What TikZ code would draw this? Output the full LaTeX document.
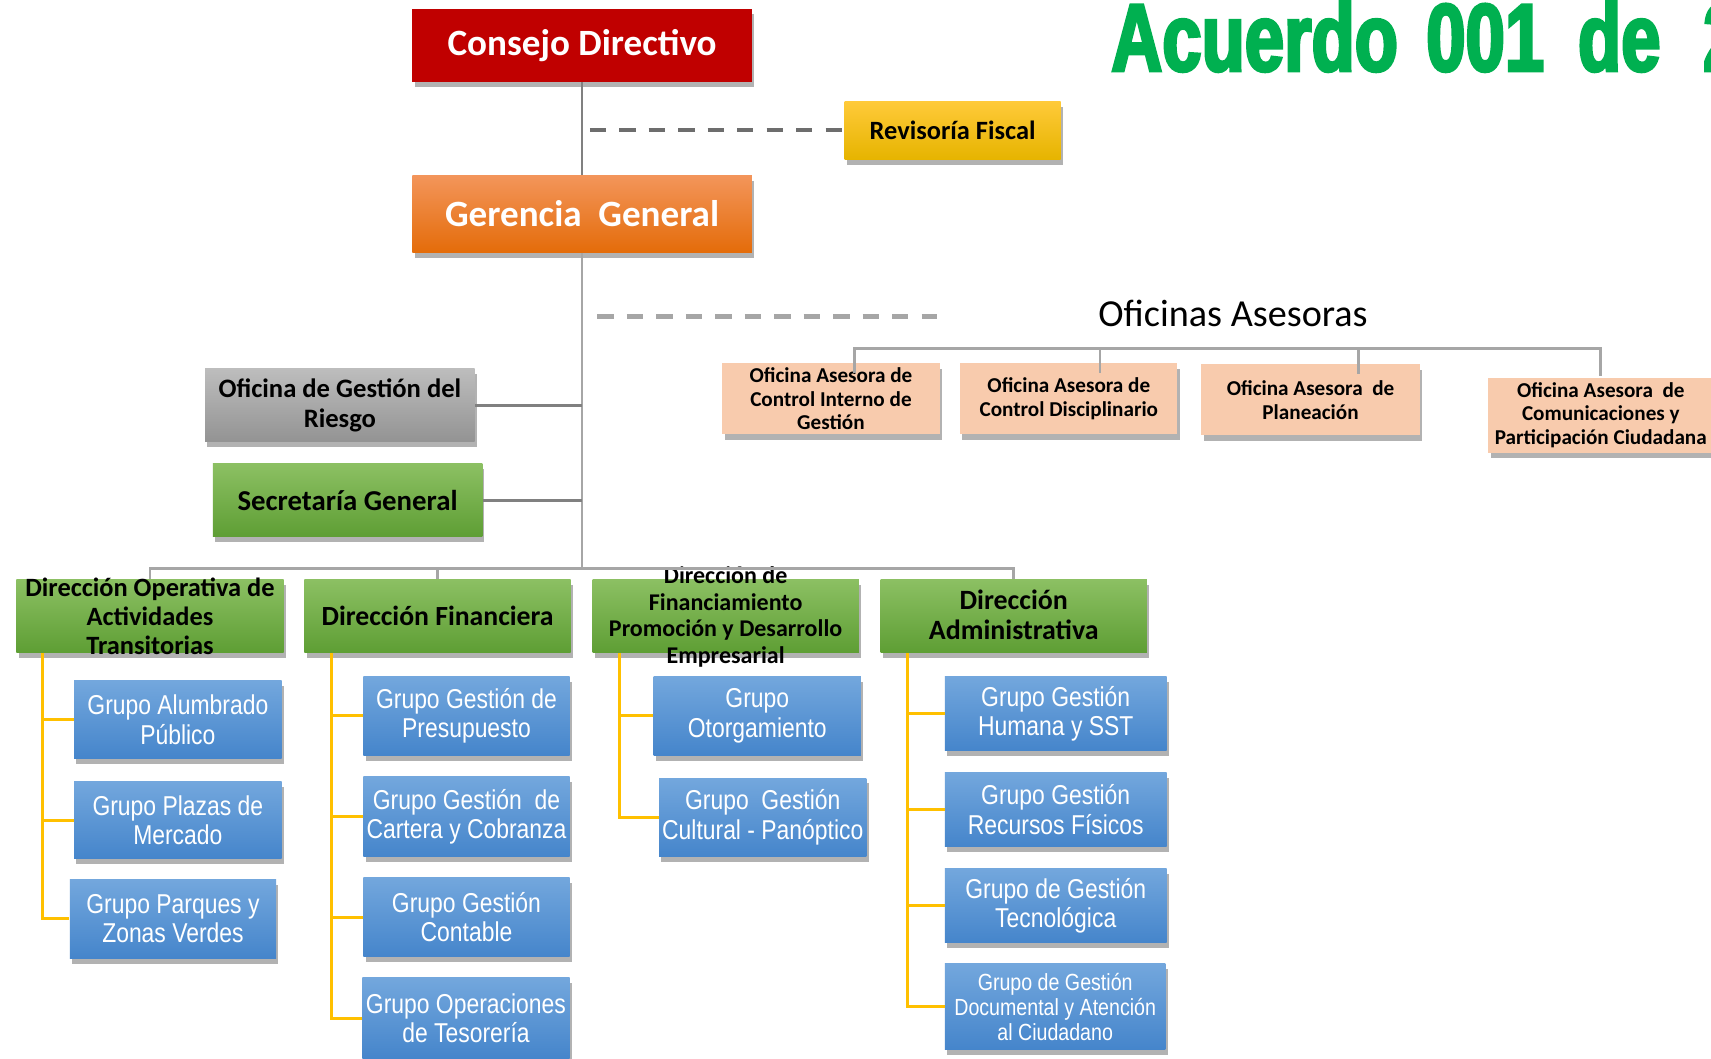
\documentclass[tikz,border=0pt]{standalone}
\usepackage{fontspec}
\setmainfont{Carlito}
\newfontfamily\narrowf{Liberation Sans}[FakeStretch=0.84]
\newfontfamily\titlef{Liberation Sans}[FakeStretch=0.736, FakeBold=3]
\usetikzlibrary{shadows,calc}
\definecolor{cRed}{HTML}{C00000}
\definecolor{cOrT}{HTML}{F3955A}
\definecolor{cOrB}{HTML}{E46C0A}
\definecolor{cYeT}{HTML}{FFCA3A}
\definecolor{cYeB}{HTML}{E6B400}
\definecolor{cGrT}{HTML}{BDBDBD}
\definecolor{cGrB}{HTML}{939393}
\definecolor{cGnT}{HTML}{8CC063}
\definecolor{cGnB}{HTML}{5E9E34}
\definecolor{cPeach}{HTML}{F8CBAD}
\definecolor{cBlT}{HTML}{73A7DD}
\definecolor{cBlB}{HTML}{4585CB}
\definecolor{cLine}{HTML}{808080}
\definecolor{cLineL}{HTML}{A6A6A6}
\definecolor{cDash}{HTML}{6D6D6D}
\definecolor{cYLine}{HTML}{FFC000}
\definecolor{cTitle}{HTML}{00B050}
\tikzset{
  box/.style={inner sep=0pt, align=center,
    drop shadow={shadow xshift=1pt, shadow yshift=-2.5pt, opacity=0.3, fill=black}},
  redbox/.style={box, fill=cRed, text=white, font=\bfseries\fontsize{17}{20}\selectfont},
  orgbox/.style={box, top color=cOrT, bottom color=cOrB, text=white, font=\bfseries\fontsize{17}{20}\selectfont},
  yelbox/.style={box, top color=cYeT, bottom color=cYeB, text=black, font=\bfseries\fontsize{12.1}{14}\selectfont},
  graybox/.style={box, top color=cGrT, bottom color=cGrB, text=black, font=\bfseries\fontsize{12.2}{13.5}\selectfont},
  greenbox/.style={box, top color=cGnT, bottom color=cGnB, text=black, font=\bfseries\fontsize{12.7}{14}\selectfont},
  peachbox/.style={box, fill=cPeach, text=black, font=\bfseries\fontsize{9.7}{10.8}\selectfont},
  bluebox/.style={box, top color=cBlT, bottom color=cBlB, text=white, font=\narrowf\fontsize{12.5}{13.5}\selectfont},
  dirtext/.style={inner sep=0pt, align=center, text=black},
  gline/.style={draw=cLine, line width=1.1pt},
  gline2/.style={draw=cLineL, line width=1.1pt},
  bus/.style={draw=cLineL, line width=1.3pt},
  yline/.style={draw=cYLine, line width=1.4pt},
  dashA/.style={draw=cDash, line width=1.9pt, dash pattern=on 7.5pt off 6pt},
  dashB/.style={draw=cLineL, line width=1.9pt, dash pattern=on 7.5pt off 6pt},
}
\newcommand\bx[7]{%
  \node[#2, minimum width={(#5-#3)*0.5pt}, minimum height={(#6-#4)*0.5pt}] (#1) at ({(#3+#5)/2},{(#4+#6)/2}) {#7};}
\begin{document}
\begin{tikzpicture}[x=0.5pt, y=-0.5pt]
\path[use as bounding box, fill=white] (0,0) rectangle (1568,970);

% title
\node[anchor=base west, inner sep=0pt, text=cTitle, font=\titlef\bfseries\fontsize{44}{48}\selectfont] (title) at (1018,65) {\spaceskip=12pt Acuerdo\hspace{1pt} 001\hspace{3.5pt} de\hspace{7.5pt} 2};

% top
\bx{cd}{redbox}{378}{8}{689}{75}{Consejo Directivo}
\bx{rf}{yelbox}{774}{93}{972}{146}{Revisoría Fiscal}
\bx{gg}{orgbox}{378}{161}{689}{231}{Gerencia\ \ General}

% advisory offices
\node[inner sep=0pt, font=\fontsize{17.5}{20}\selectfont] (oa) at (1130,287) {Oficinas Asesoras};
\bx{o1}{peachbox}{662}{333}{861}{398}{Oficina Asesora de\\Control Interno de\\Gestión}
\bx{o2}{peachbox}{880}{333}{1079}{398}{Oficina Asesora de\\Control Disciplinario}
\bx{o3}{peachbox}{1101}{334}{1301}{399}{Oficina Asesora\ \ de\\Planeación}
\bx{o4}{peachbox}{1364}{346}{1570}{415}{Oficina Asesora\ \ de\\Comunicaciones y\\Participación Ciudadana}

% staff
\bx{gr}{graybox}{188}{338}{435}{405}{Oficina de Gestión del\\Riesgo}
\bx{sg}{greenbox, font=\bfseries\fontsize{13.2}{15}\selectfont}{195}{425}{442}{492}{Secretaría General}

% directions
\bx{d1}{greenbox}{15}{531}{260}{598}{}
\bx{d2}{greenbox}{279}{531}{523}{598}{Dirección Financiera}
\bx{d3}{greenbox}{543}{531}{787}{598}{}
\bx{d4}{greenbox}{807}{531}{1051}{598}{}
\node[dirtext, font=\bfseries\fontsize{12.1}{13.3}\selectfont] (d1t) at (d1.center) {Dirección Operativa de\\Actividades\\Transitorias};
\node[dirtext, font=\bfseries\fontsize{11}{12.25}\selectfont] (d3t) at ([yshift=-0.5pt]d3.center) {Dirección de\\Financiamiento\\Promoción y Desarrollo\\Empresarial};
\node[dirtext, font=\bfseries\fontsize{12.8}{14}\selectfont] (d4t) at ([yshift=0.5pt]d4.center) {Dirección\\Administrativa};

% groups
\bx{g11}{bluebox}{68}{624}{258}{695}{Grupo Alumbrado\\Público}
\bx{g12}{bluebox}{68}{716}{258}{787}{Grupo Plazas de\\Mercado}
\bx{g13}{bluebox}{64}{806}{253}{878}{Grupo Parques y\\Zonas Verdes}
\bx{g21}{bluebox}{333}{620}{522}{692}{Grupo Gestión de\\Presupuesto}
\bx{g22}{bluebox}{333}{712}{522}{785}{Grupo Gestión\ \ de\\Cartera y Cobranza}
\bx{g23}{bluebox}{333}{804}{522}{877}{Grupo Gestión\\Contable}
\bx{g24}{bluebox}{332}{896}{522}{970}{Grupo Operaciones\\de Tesorería}
\bx{g31}{bluebox}{599}{620}{789}{692}{Grupo\\Otorgamiento}
\bx{g32}{bluebox}{604}{713}{794}{785}{Grupo\ \ Gestión\\Cultural - Panóptico}
\bx{g41}{bluebox}{866}{620}{1069}{688}{Grupo Gestión\\Humana y SST}
\bx{g42}{bluebox}{866}{708}{1069}{776}{Grupo Gestión\\Recursos Físicos}
\bx{g43}{bluebox}{866}{796}{1069}{864}{Grupo de Gestión\\Tecnológica}
\bx{g44}{bluebox, font=\narrowf\fontsize{10.7}{11.5}\selectfont}{866}{883}{1068}{962}{Grupo de Gestión\\Documental y Atención\\al Ciudadano}

% connectors: top spine
\draw[gline] (cd.south) -- (gg.north);
\draw[dashA] ([xshift=3.5pt]cd.south |- rf.west) -- ([xshift=4.5pt]rf.west);
\coordinate (busC) at (533.5,521);
\draw[gline2] (gg.south) -- (busC);
\coordinate (dBend) at (859,290);
\draw[dashB] ([xshift=7pt]gg.south |- dBend) -- (dBend);
\draw[gline] (gr.east) -- (gr.east -| gg.south);
\draw[gline] (sg.east) -- (sg.east -| gg.south);

% bus to directions
\draw[bus] (d1.north) |- (busC) -| (d4.north);
\draw[bus] (d2.north) -- (d2.north |- busC);

% advisory bus
\coordinate (obL) at (783,319);
\coordinate (obR) at (1467,319);
\coordinate (ob2) at (1008,319);
\coordinate (ob3) at (1245,319);
\draw[bus] ([yshift=-4.5pt]obL |- o1.north) -- (obL) -- (obR) -- ([yshift=0.5pt]obR |- o4.north);
\draw[bus] (ob2) -- ([yshift=-4.5pt]ob2 |- o2.north);
\draw[bus] (ob3) -- ([yshift=-4.5pt]ob3 |- o3.north);

% yellow connectors
\coordinate (y1) at ([xshift=12pt]d1.south west);
\draw[yline] (y1) |- (g13.west);
\draw[yline] (y1 |- g11.west) -- (g11.west);
\draw[yline] (y1 |- g12.west) -- (g12.west);
\coordinate (y2) at ([xshift=12.5pt]d2.south west);
\draw[yline] (y2) |- (g24.west);
\draw[yline] (y2 |- g21.west) -- (g21.west);
\draw[yline] (y2 |- g22.west) -- (g22.west);
\draw[yline] (y2 |- g23.west) -- (g23.west);
\coordinate (y3) at ([xshift=12.5pt]d3.south west);
\draw[yline] (y3) |- (g32.west);
\draw[yline] (y3 |- g31.west) -- (g31.west);
\coordinate (y4) at ([xshift=12.5pt]d4.south west);
\draw[yline] (y4) |- (g44.west);
\draw[yline] (y4 |- g41.west) -- (g41.west);
\draw[yline] (y4 |- g42.west) -- (g42.west);
\draw[yline] (y4 |- g43.west) -- (g43.west);
\end{tikzpicture}
\end{document}
